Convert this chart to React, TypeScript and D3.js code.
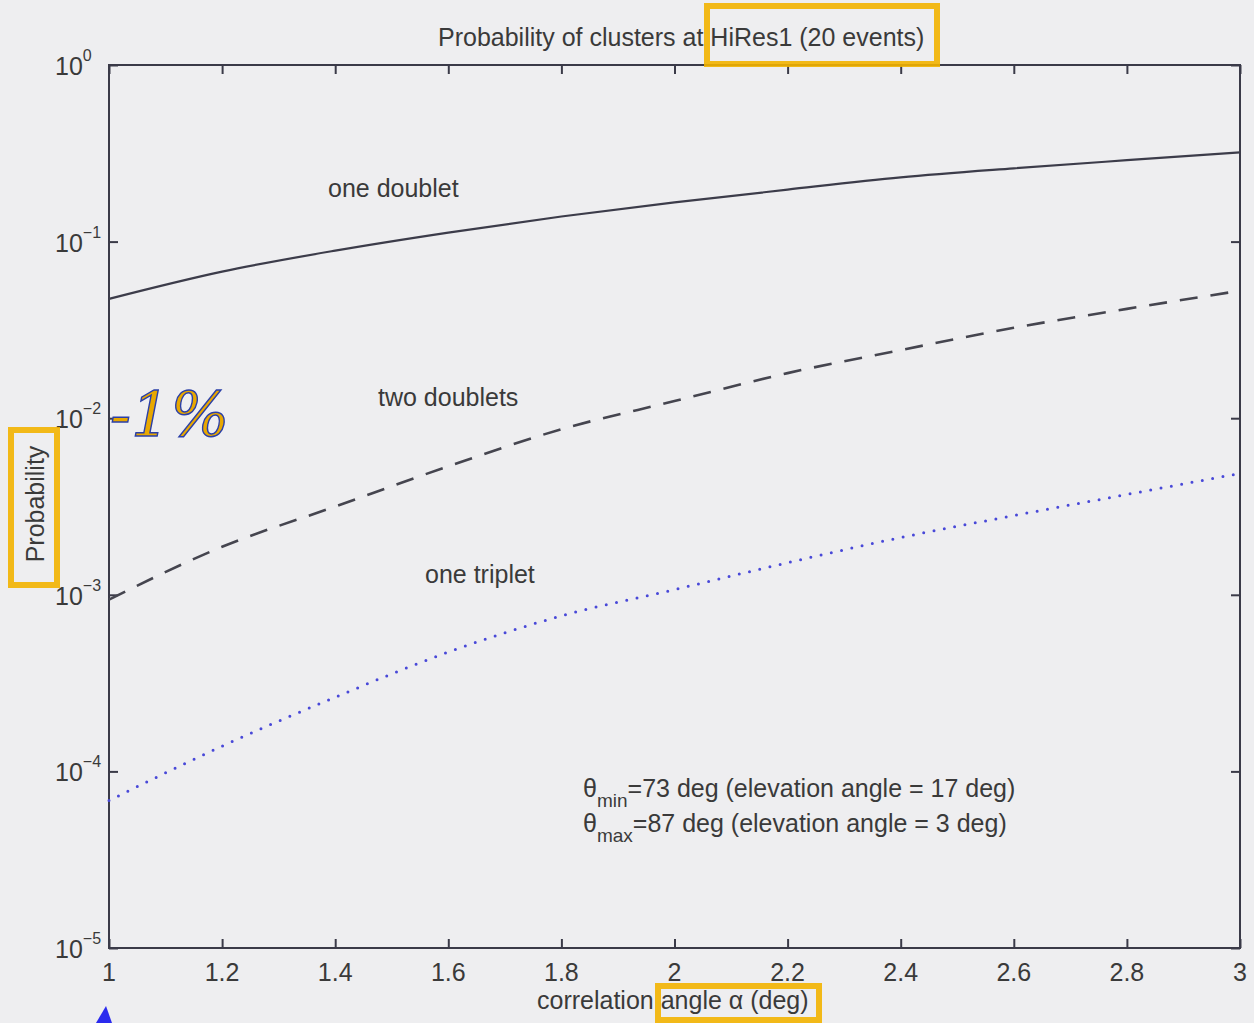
import React, { useRef, useEffect } from "react";
import * as d3 from "d3";

// correlation angle (deg)
const angles = [1.0, 1.2, 1.4, 1.6, 1.8, 2.0, 2.2, 2.4, 2.6, 2.8, 3.0];
const oneDoublet = [0.0474, 0.0676, 0.0889, 0.1125, 0.1387, 0.1666, 0.197, 0.231, 0.26, 0.289, 0.32];
const twoDoublets = [0.00094, 0.00187, 0.00316, 0.00534, 0.00866, 0.0125, 0.018, 0.0243, 0.0325, 0.0416, 0.0527];
const oneTriplet = [0.0000684, 0.000139, 0.000263, 0.000474, 0.00076, 0.00107, 0.00152, 0.00211, 0.00281, 0.0037, 0.00487];

const xTicks = [1, 1.2, 1.4, 1.6, 1.8, 2, 2.2, 2.4, 2.6, 2.8, 3];
const yExponents = [0, -1, -2, -3, -4, -5];

const W = 1254;
const H = 1023;

const App: React.FC = () => {
  const svgRef = useRef<SVGSVGElement>(null);

  useEffect(() => {
    if (!svgRef.current) return;
    const svg = d3.select(svgRef.current);
    svg.selectAll("*").remove();

    const margin = { top: 65, right: 14, bottom: 75, left: 109 };
    const font = "'Liberation Sans', Arial, sans-serif";
    const fs = 25;
    const axisColor = "#3a3a48";
    const textColor = "#3a3a3a";

    const x = d3.scaleLinear().domain([1, 3]).range([margin.left, W - margin.right]);
    const y = d3.scaleLog().domain([1e-5, 1]).range([H - margin.bottom, margin.top]);

    // paper background
    svg.append("rect").attr("width", W).attr("height", H).attr("fill", "#eeeef0");

    // frame
    svg
      .append("rect")
      .attr("x", x(1))
      .attr("y", y(1))
      .attr("width", x(3) - x(1))
      .attr("height", y(1e-5) - y(1))
      .attr("fill", "none")
      .attr("stroke", axisColor)
      .attr("stroke-width", 2);

    // ticks pointing inward on all four sides
    const yVals = yExponents.map((e) => Math.pow(10, e));
    const axes = [
      { ax: d3.axisBottom(x).tickValues(xTicks), t: `translate(0,${y(1e-5)})` },
      { ax: d3.axisTop(x).tickValues(xTicks), t: `translate(0,${y(1)})` },
      { ax: d3.axisLeft(y).tickValues(yVals), t: `translate(${x(1)},0)` },
      { ax: d3.axisRight(y).tickValues(yVals), t: `translate(${x(3)},0)` },
    ];
    axes.forEach(({ ax, t }) => {
      ax.tickSize(-9).tickFormat(() => "");
      const g = svg.append("g").attr("transform", t).call(ax as any);
      g.select(".domain").remove();
      g.selectAll("line").attr("stroke", axisColor).attr("stroke-width", 2);
    });

    // x tick labels
    svg
      .append("g")
      .selectAll("text")
      .data(xTicks)
      .enter()
      .append("text")
      .attr("x", (d) => x(d))
      .attr("y", y(1e-5) + 33)
      .attr("text-anchor", "middle")
      .attr("font-family", font)
      .attr("font-size", fs)
      .attr("fill", textColor)
      .text((d) => String(d));

    // y tick labels 10^n
    yExponents.forEach((e) => {
      const t = svg
        .append("text")
        .attr("x", x(1) - 54)
        .attr("y", y(Math.pow(10, e)) + 10)
        .attr("font-family", font)
        .attr("font-size", fs)
        .attr("fill", textColor);
      t.append("tspan").text("10");
      t.append("tspan")
        .attr("dy", -14)
        .attr("font-size", 16)
        .text(e === 0 ? "0" : `\u2212${-e}`);
    });

    // curves
    const line = d3
      .line<number>()
      .x((_, i) => x(angles[i]))
      .y((d) => y(d))
      .curve(d3.curveMonotoneX);

    svg
      .append("path")
      .attr("d", line(oneDoublet))
      .attr("fill", "none")
      .attr("stroke", "#3c3c4a")
      .attr("stroke-width", 2.2);

    svg
      .append("path")
      .attr("d", line(twoDoublets))
      .attr("fill", "none")
      .attr("stroke", "#45454f")
      .attr("stroke-width", 2.6)
      .attr("stroke-dasharray", "18,13");

    svg
      .append("path")
      .attr("d", line(oneTriplet))
      .attr("fill", "none")
      .attr("stroke", "#4848d8")
      .attr("stroke-width", 3)
      .attr("stroke-linecap", "round")
      .attr("stroke-dasharray", "0,10.5");

    // curve labels
    const labels = [
      { text: "one doublet", x: 328, y: 197 },
      { text: "two doublets", x: 378, y: 406 },
      { text: "one triplet", x: 425, y: 583 },
    ];
    labels.forEach((l) => {
      svg
        .append("text")
        .attr("x", l.x)
        .attr("y", l.y)
        .attr("font-family", font)
        .attr("font-size", fs)
        .attr("fill", textColor)
        .text(l.text);
    });

    // theta notes
    const notes = [
      { sub: "min", rest: "=73 deg (elevation angle = 17 deg)", y: 797 },
      { sub: "max", rest: "=87 deg (elevation angle = 3 deg)", y: 832 },
    ];
    notes.forEach((n) => {
      const t = svg
        .append("text")
        .attr("x", 583)
        .attr("y", n.y)
        .attr("font-family", font)
        .attr("font-size", fs)
        .attr("fill", textColor);
      t.append("tspan").text("\u03b8");
      t.append("tspan").attr("dy", 10).attr("font-size", 19).text(n.sub);
      t.append("tspan").attr("dy", -10).text(n.rest);
    });

    // title
    svg
      .append("text")
      .attr("x", 438)
      .attr("y", 46)
      .attr("font-family", font)
      .attr("font-size", fs)
      .attr("fill", textColor)
      .text("Probability of clusters at HiRes1 (20 events)");

    // axis titles
    svg
      .append("text")
      .attr("x", 537)
      .attr("y", 1009)
      .attr("font-family", font)
      .attr("font-size", fs)
      .attr("fill", textColor)
      .text("correlation angle \u03b1 (deg)");

    svg
      .append("text")
      .attr("transform", `translate(44,504) rotate(-90)`)
      .attr("text-anchor", "middle")
      .attr("font-family", font)
      .attr("font-size", fs)
      .attr("fill", textColor)
      .text("Probability");

    // highlighter marks
    const hl = "#f2b200";
    const boxes = [
      { x: 707, y: 6, w: 230, h: 58 },
      { x: 11, y: 430, w: 46, h: 155 },
      { x: 658, y: 986, w: 161, h: 34 },
    ];
    boxes.forEach((b) => {
      svg
        .append("rect")
        .attr("x", b.x)
        .attr("y", b.y)
        .attr("width", b.w)
        .attr("height", b.h)
        .attr("fill", "none")
        .attr("stroke", hl)
        .attr("stroke-width", 6)
        .attr("opacity", 0.9);
    });

    // handwritten "-1%" note at 10^-2
    svg
      .append("text")
      .attr("x", 110)
      .attr("y", 436)
      .attr("font-family", "'DejaVu Serif', serif")
      .attr("font-style", "italic")
      .attr("font-size", 62)
      .attr("fill", "#e8a800")
      .attr("stroke", "#2a3fa8")
      .attr("stroke-width", 1.4)
      .text("-1%");

    // blue pen mark at bottom left
    svg
      .append("path")
      .attr("d", "M96,1023 L106,1006 L112,1023 Z")
      .attr("fill", "#2a2aee");
  }, []);

  return (
    <svg
      ref={svgRef}
      width={W}
      height={H}
      style={{ position: "absolute", left: 0, top: 0 }}
    ></svg>
  );
};

export default App;
